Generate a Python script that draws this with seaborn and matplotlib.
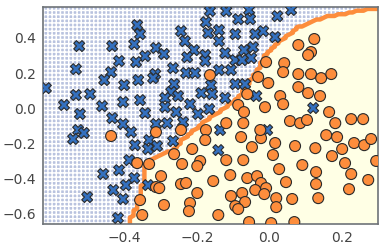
import numpy as np
import pandas as pd
import matplotlib
matplotlib.use("Agg")
import matplotlib.pyplot as plt
import seaborn as sns

# ---- data ----
blue_x = [-0.365, -0.357, -0.525, -0.434, -0.373, -0.313, -0.415, -0.343, -0.368, -0.534,
          -0.437, -0.456, -0.315, -0.321, -0.401, -0.362, -0.617, -0.534, -0.495, -0.567,
          -0.462, -0.404, -0.357, -0.523, -0.434, -0.343, -0.291, -0.164, -0.119, -0.056,
          -0.086, -0.053, -0.175, -0.244, -0.169, -0.139, -0.094, -0.039, -0.017, -0.139,
          -0.233, -0.208, -0.227, -0.177, -0.177, -0.122, -0.094, -0.070, -0.045, -0.075,
          -0.050, -0.266, -0.230, -0.205, -0.139, -0.106, -0.263, -0.161, -0.094, -0.067,
          -0.271, -0.252, -0.288, -0.188, -0.158, -0.122, -0.036, -0.219, -0.288, -0.257,
          -0.197, -0.166, 0.060, 0.022, 0.016, 0.121, -0.404, -0.382, -0.528, -0.512,
          -0.542, -0.371, -0.332, -0.335, -0.313, -0.387, -0.415, -0.459, -0.373, -0.396,
          -0.335, -0.431, -0.404, -0.503, -0.418, -0.266, -0.310, -0.282, -0.238, -0.136,
          -0.141, -0.006]
blue_y = [0.473, 0.422, 0.354, 0.354, 0.365, 0.343, 0.269, 0.297, 0.263, 0.223,
          0.206, 0.161, 0.195, 0.172, 0.132, 0.161, 0.115, 0.076, 0.081, 0.019,
          0.013, 0.036, 0.047, -0.032, -0.055, -0.027, 0.309, 0.553, 0.553, 0.559,
          0.507, 0.507, 0.490, 0.439, 0.428, 0.445, 0.422, 0.422, 0.439, 0.382,
          0.382, 0.331, 0.291, 0.303, 0.269, 0.314, 0.274, 0.331, 0.348, 0.274,
          0.286, 0.229, 0.201, 0.201, 0.218, 0.218, 0.138, 0.132, 0.138, 0.138,
          0.093, 0.070, 0.059, 0.087, 0.081, 0.059, 0.070, 0.024, 0.007, -0.021,
          -0.032, -0.004, 0.559, 0.524, 0.405, 0.002, -0.089, -0.135, -0.123, -0.140,
          -0.174, -0.209, -0.180, -0.231, -0.089, -0.294, -0.351, -0.373, -0.396, -0.436,
          -0.436, -0.464, -0.515, -0.504, -0.623, -0.186, -0.214, -0.084, -0.078, -0.123,
          -0.237, -0.123]

orange_x = [-0.164, -0.009, -0.031, -0.003, -0.061, -0.012, -0.086, -0.070, 0.124, 0.080,
            0.115, 0.107, 0.041, 0.038, 0.080, 0.115, 0.143, 0.171, 0.080, 0.107,
            0.140, 0.030, 0.038, 0.165, -0.437, -0.365, -0.332, -0.313, -0.313, -0.357,
            -0.351, -0.244, -0.175, -0.177, -0.119, -0.072, -0.078, -0.023, -0.048, -0.213,
            -0.263, -0.241, -0.191, -0.199, -0.119, -0.072, -0.299, -0.155, -0.108, -0.061,
            -0.034, -0.304, -0.244, -0.230, -0.199, -0.023, -0.009, -0.039, -0.014, -0.106,
            -0.075, -0.067, -0.094, -0.086, -0.219, -0.222, -0.291, -0.141, -0.056, 0.057,
            0.085, 0.104, 0.182, 0.226, 0.259, 0.016, 0.071, 0.127, 0.157, 0.187,
            0.201, 0.234, 0.262, 0.281, 0.295, 0.010, 0.173, 0.209, 0.027, 0.091,
            0.129, 0.226, 0.273, 0.046, 0.129, 0.220, 0.019, 0.063, 0.135, 0.019,
            0.005, 0.069, -0.025]
orange_y = [0.189, 0.263, 0.178, 0.144, 0.081, 0.007, 0.019, -0.021, 0.394, 0.360,
            0.320, 0.303, 0.257, 0.206, 0.195, 0.195, 0.172, 0.195, 0.121, 0.087,
            0.070, 0.070, 0.024, -0.021, -0.157, -0.311, -0.316, -0.135, -0.447, -0.521,
            -0.606, -0.123, -0.123, -0.180, -0.084, -0.084, -0.163, -0.169, -0.220, -0.231,
            -0.260, -0.316, -0.299, -0.328, -0.294, -0.294, -0.385, -0.413, -0.379, -0.396,
            -0.385, -0.453, -0.430, -0.424, -0.481, -0.424, -0.453, -0.464, -0.487, -0.498,
            -0.481, -0.532, -0.555, -0.572, -0.538, -0.584, -0.549, -0.606, -0.646, -0.072,
            -0.084, -0.066, -0.084, -0.061, -0.061, -0.197, -0.214, -0.226, -0.152, -0.163,
            -0.231, -0.197, -0.209, -0.174, -0.299, -0.265, -0.271, -0.311, -0.345, -0.322,
            -0.362, -0.373, -0.407, -0.419, -0.430, -0.459, -0.510, -0.515, -0.510, -0.561,
            -0.652, -0.646, -0.123]

# decision boundary (blue class lies to the left of it)
boundary_y = [-0.70, -0.596, -0.522, -0.419, -0.362, -0.294, -0.277, -0.237, -0.180, -0.112,
              -0.049, 0.002, 0.076, 0.218, 0.303, 0.371, 0.462, 0.519, 0.547, 0.570, 0.62]
boundary_x = [-0.395, -0.376, -0.357, -0.349, -0.349, -0.335, -0.310, -0.266, -0.241, -0.200,
              -0.161, -0.122, -0.078, -0.031, -0.012, 0.024, 0.080, 0.154, 0.229, 0.300, 0.36]

x_ticks = [-0.4, -0.2, 0.0, 0.2]
y_ticks = [-0.6, -0.4, -0.2, 0.0, 0.2, 0.4]

# ---- style ----
sns.set_style("white")
plt.rcParams["font.family"] = ["DejaVu Sans"]
plt.rcParams["hatch.color"] = "#26306a"
plt.rcParams["hatch.linewidth"] = 1.1

fig = plt.figure(figsize=(3.85, 2.5), dpi=100)
ax = fig.add_axes([43 / 385, 1 - 224 / 250, 335 / 385, 217 / 250])

# decision regions on a grid
xx, yy = np.meshgrid(np.arange(-0.66, 0.34, 0.01), np.arange(-0.70, 0.62, 0.01))
xb = np.interp(yy, boundary_y, boundary_x)
Z = (xx < xb).astype(float)
ax.contourf(xx, yy, Z, levels=[-0.5, 0.5, 1.5], colors=["#ffffe5", "#b9c3df"],
            hatches=[None, "++++"])
ax.contour(xx, yy, Z, levels=[0.5], colors="#fd8d3c", linewidths=3.2)

df = pd.DataFrame({
    "x": blue_x + orange_x,
    "y": blue_y + orange_y,
    "cls": ["blue"] * len(blue_x) + ["orange"] * len(orange_x),
})
sns.scatterplot(data=df, x="x", y="y", hue="cls", style="cls",
                palette={"blue": "#3470be", "orange": "#fd8d3c"},
                markers={"blue": "X", "orange": "o"},
                s=62, edgecolor="#2a2a2a", linewidth=0.8, legend=False, ax=ax, zorder=3)

ax.set_xlim(-0.625, 0.300)
ax.set_ylim(-0.657, 0.576)
ax.set_xticks(x_ticks)
ax.set_yticks(y_ticks)
ax.set_xlabel("")
ax.set_ylabel("")
ax.tick_params(axis="both", labelsize=10, colors="#444444", length=0, pad=5)
for sp in ax.spines.values():
    sp.set_color("#6e7378")
    sp.set_linewidth(1.2)

fig.savefig("out.png", dpi=100)
